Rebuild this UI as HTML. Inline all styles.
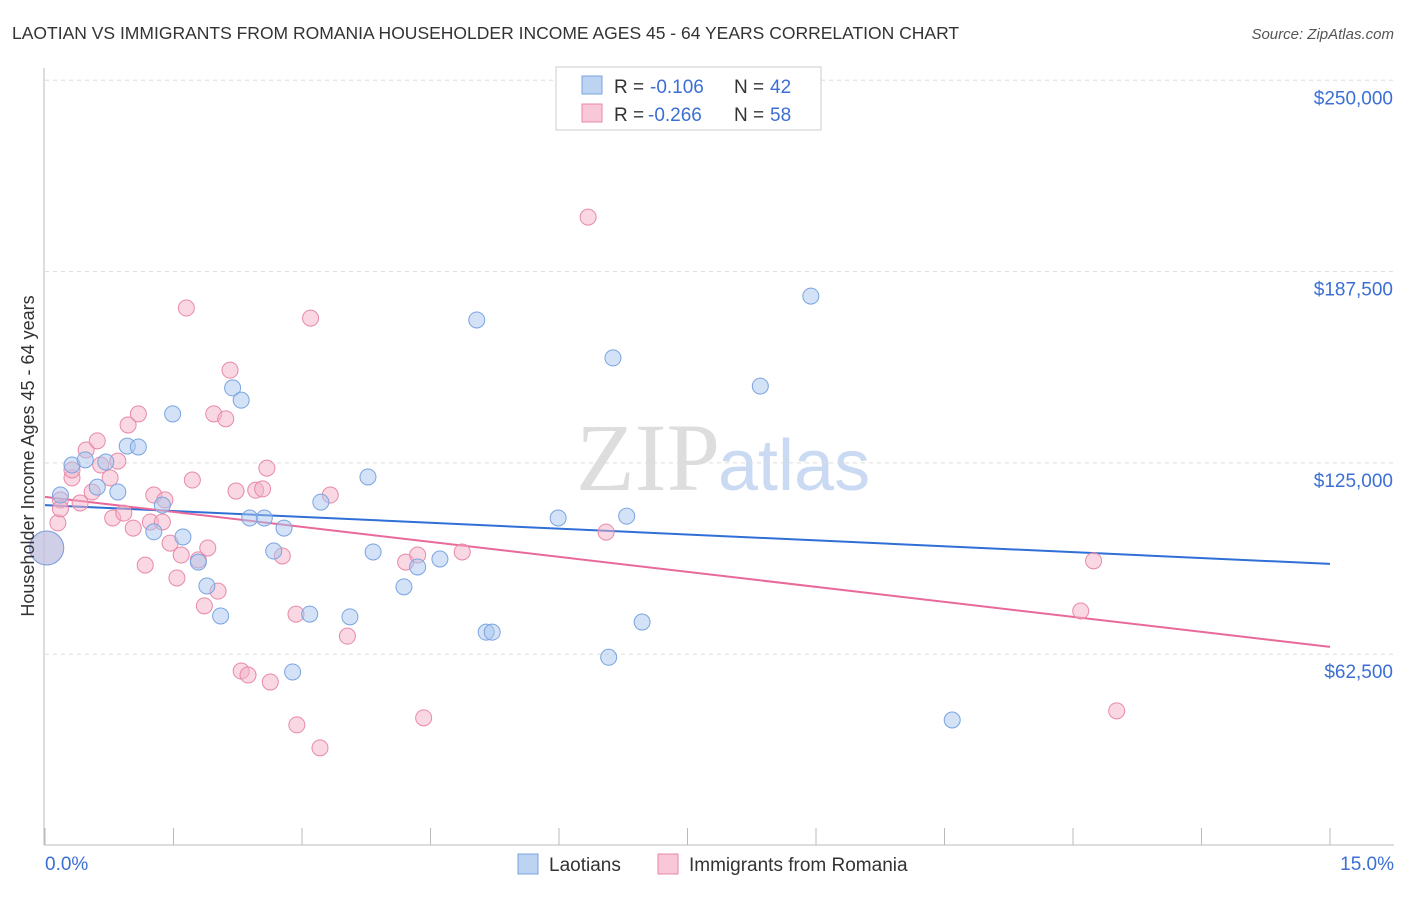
<!DOCTYPE html>
<html><head><meta charset="utf-8"><style>
body{margin:0;background:#fff;font-family:"Liberation Sans",sans-serif;}
</style></head><body>
<svg id="chart" width="1406" height="892" xmlns="http://www.w3.org/2000/svg" font-family="Liberation Sans, sans-serif">
<text x="12" y="39" font-size="17.5" fill="#333">LAOTIAN VS IMMIGRANTS FROM ROMANIA HOUSEHOLDER INCOME AGES 45 - 64 YEARS CORRELATION CHART</text>
<text x="1394" y="39" font-size="15" fill="#555" text-anchor="end" font-style="italic">Source: ZipAtlas.com</text>
<text x="720" y="490" font-size="96" fill="#ddd" text-anchor="end" font-family="Liberation Serif, serif">ZIP</text>
<text x="718" y="490" font-size="72" fill="#c9daf2">atlas</text>
<g id="grid"></g><g id="axes"></g><g id="trends"></g><g id="pts"></g>
<text transform="translate(34,456) rotate(-90)" font-size="18" fill="#333" text-anchor="middle">Householder Income Ages 45 - 64 years</text>
<g>
<rect x="556" y="67" width="265" height="63" fill="#fff" stroke="#ccc"/>
<rect x="582" y="76" width="20" height="18" fill="#bcd3f2" stroke="#7aa4e0"/>
<rect x="582" y="104" width="20" height="18" fill="#f8c8d8" stroke="#e889a8"/>
<g font-size="19">
<text x="614" y="93" fill="#333">R =</text><text x="650" y="93" fill="#3b6fd4">-0.106</text>
<text x="734" y="93" fill="#333">N =</text><text x="770" y="93" fill="#3b6fd4">42</text></g>
<g font-size="19">
<text x="614" y="121" fill="#333">R =</text><text x="648" y="121" fill="#3b6fd4">-0.266</text>
<text x="734" y="121" fill="#333">N =</text><text x="770" y="121" fill="#3b6fd4">58</text></g>
</g>
<g>
<rect x="518" y="854" width="20" height="20" fill="#bcd3f2" stroke="#7aa4e0"/>
<text x="549" y="871" font-size="19" fill="#333">Laotians</text>
<rect x="658" y="854" width="20" height="20" fill="#f8c8d8" stroke="#e889a8"/>
<text x="689" y="871" font-size="19" fill="#333">Immigrants from Romania</text>
</g>
</svg>
<script>
const yTicks=[62500,125000,187500,250000];
const yTickLabels=["$62,500","$125,000","$187,500","$250,000"];
const xTickLabels=["0.0%","15.0%"];
const blueX=[0.02,0.18,0.315,0.47,0.61,0.71,0.85,0.96,1.09,1.27,1.37,1.49,1.61,1.79,1.89,2.05,2.19,2.29,2.39,2.56,2.67,2.79,2.89,3.09,3.22,3.56,3.77,3.83,4.19,4.35,4.61,5.04,5.15,5.22,5.99,6.58,6.63,6.79,6.97,8.35,8.94,10.59];
const blueY=[97.2,114.5,124.3,126.0,117.1,125.3,115.5,130.5,130.2,102.5,111.2,141.0,100.8,92.6,84.8,75.0,149.5,145.5,107.0,107.0,96.2,103.7,56.7,75.6,112.2,74.7,120.4,95.9,84.5,91.0,93.6,171.7,69.7,69.7,107.0,61.5,159.3,107.6,73.0,150.1,179.5,41.0];
const pinkX=[0.02,0.15,0.18,0.315,0.315,0.41,0.48,0.55,0.61,0.65,0.76,0.79,0.85,0.92,0.97,1.03,1.09,1.17,1.23,1.27,1.37,1.40,1.46,1.54,1.59,1.65,1.72,1.79,1.86,1.90,1.97,2.02,2.11,2.16,2.23,2.29,2.37,2.46,2.54,2.59,2.63,2.77,2.93,2.94,3.10,3.21,3.33,3.53,4.21,4.35,4.42,4.87,6.34,6.55,12.09,12.24,12.51,0.18];
const pinkY=[97.2,105.4,112.9,120.1,122.7,111.9,129.2,115.5,132.2,124.3,120.1,107.0,125.6,108.6,137.4,103.7,141.0,91.6,105.7,114.5,105.7,112.9,98.8,87.4,94.9,175.6,119.4,93.3,78.3,97.2,141.0,83.1,139.4,155.3,115.8,57.0,55.7,116.1,116.5,123.3,53.4,94.6,75.6,39.4,172.3,31.9,114.5,68.4,92.6,94.9,41.7,95.9,205.3,102.4,76.6,93.0,44.0,110.0];
const blueTrend=[111.2,92.0];
const pinkTrend=[113.9,64.9];
const NS="http://www.w3.org/2000/svg";
const X0=45,X1=1330,Y0=845.5,PXK=191.3/62.5;
const sx=v=>X0+(v/15)*(X1-X0);
const sy=v=>Y0-v*PXK;
function mk(t,a,p){const e=document.createElementNS(NS,t);for(const k in a)e.setAttribute(k,a[k]);document.getElementById(p).appendChild(e);return e;}
yTicks.forEach((t,i)=>{
 const y=sy(t/1000);
 const l=mk('line',{x1:45,x2:1394,y1:y,y2:y,stroke:'#ddd','stroke-dasharray':'4,4'},'grid');
 
 
 const tx=mk('text',{x:1393,y:y+24,'font-size':19,fill:'#3b6fd4','text-anchor':'end'},'axes');
 tx.textContent=yTickLabels[i];
 
 
});
let ax=mk('line',{x1:44,x2:44,y1:68,y2:845,stroke:'#bbb'},'axes');


ax=mk('line',{x1:44,x2:1394,y1:845,y2:845,stroke:'#bbb'},'axes');


for(let i=0;i<=10;i++){
 const x=sx(i*1.5);
 const t=mk('line',{x1:x,x2:x,y1:828,y2:845,stroke:'#bbb'},'axes');
 
 
}
let xl=mk('text',{x:45,y:870,'font-size':19,fill:'#3b6fd4'},'axes');xl.textContent=xTickLabels[0];


xl=mk('text',{x:1394,y:870,'font-size':19,fill:'#3b6fd4','text-anchor':'end'},'axes');xl.textContent=xTickLabels[1];


function pts(xs,ys,fill,stroke,name){
 xs.forEach((v,i)=>{
  const r=(i===0)?17:8;
  const c=mk('circle',{cx:sx(v),cy:sy(ys[i]),r:r,fill:fill,'fill-opacity':0.5,stroke:stroke,'stroke-width':1},'pts');
  
  
 });
}
pts(pinkX,pinkY,'#f4b2c8','#e889a8','point-romania');
pts(blueX,blueY,'#a8c6ee','#7aa4e0','point-laotians');
let tl=mk('line',{x1:sx(0),y1:sy(blueTrend[0]),x2:sx(15),y2:sy(blueTrend[1]),stroke:'#2f6fd6','stroke-width':2},'trends');


tl=mk('line',{x1:sx(0),y1:sy(pinkTrend[0]),x2:sx(15),y2:sy(pinkTrend[1]),stroke:'#e8699a','stroke-width':2},'trends');


</script>
</body></html>
